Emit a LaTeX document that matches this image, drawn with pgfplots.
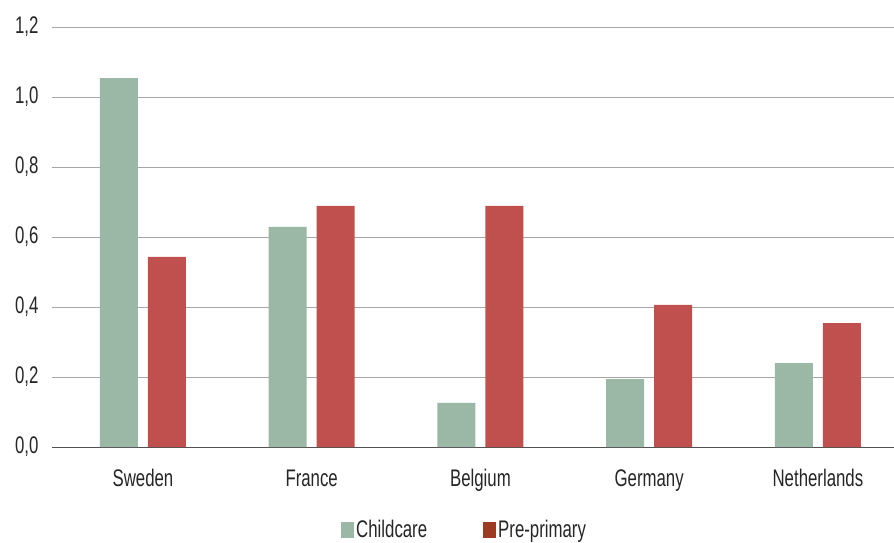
\documentclass[border=0pt]{standalone}
\usepackage{pgfplots}
\pgfplotsset{compat=1.18}
\usepackage{fontspec}
\setmainfont{Liberation Sans}[FakeStretch=0.7]
\definecolor{childc}{HTML}{9BB7A5}
\definecolor{prep}{HTML}{C0504D}
\definecolor{prepleg}{HTML}{9C3B22}
\definecolor{gridc}{HTML}{A6A6A6}
\definecolor{txt}{HTML}{262626}
\begin{document}
\begin{tikzpicture}
\pgfresetboundingbox
\path[use as bounding box] (-52pt,-95pt) rectangle (842pt,447pt);
\begin{axis}[
  at={(0pt,0pt)}, anchor=south west,
  scale only axis, width=842pt, height=420pt,
  xmin=-0.539, xmax=4.451, ymin=0, ymax=1.2,
  ytick={0,0.2,...,1.2},
  xtick={0,1,2,3,4},
  xticklabels={Sweden,France,Belgium,Germany,Netherlands},
  major tick length=0pt,
  axis x line*=bottom, axis y line*=left,
  y axis line style={draw=none},
  x axis line style={draw=txt!80, line width=0.8pt},
  ymajorgrids, grid style={draw=gridc, line width=0.8pt},
  /pgf/number format/fixed, /pgf/number format/fixed zerofill,
  /pgf/number format/precision=1, /pgf/number format/use comma,
  /pgf/number format/assume math mode=true,
  ticklabel style={font=\fontsize{24}{28}\selectfont, text=txt},
  yticklabel style={xshift=-10pt},
  xticklabel style={yshift=-19pt},
  ybar, bar width=38pt,
  legend style={at={(0.49,-0.165)}, anchor=north, draw=none, font=\fontsize{24}{28}\selectfont, text=txt, legend columns=2, /tikz/every even column/.append style={column sep=54pt}},
]
\addplot[fill=childc, draw=none, bar shift=-24pt, legend image code/.code={\fill[childc] (0pt,-8pt) rectangle (13pt,8pt);}] coordinates {(0,1.054) (1,0.629) (2,0.126) (3,0.194) (4,0.240)};
\addlegendentry{Childcare}
\addplot[fill=prep, draw=none, bar shift=24pt, legend image code/.code={\fill[prepleg] (0pt,-8pt) rectangle (13pt,8pt);}] coordinates {(0,0.543) (1,0.689) (2,0.689) (3,0.406) (4,0.354)};
\addlegendentry{Pre-primary}
\end{axis}
\end{tikzpicture}
\end{document}
